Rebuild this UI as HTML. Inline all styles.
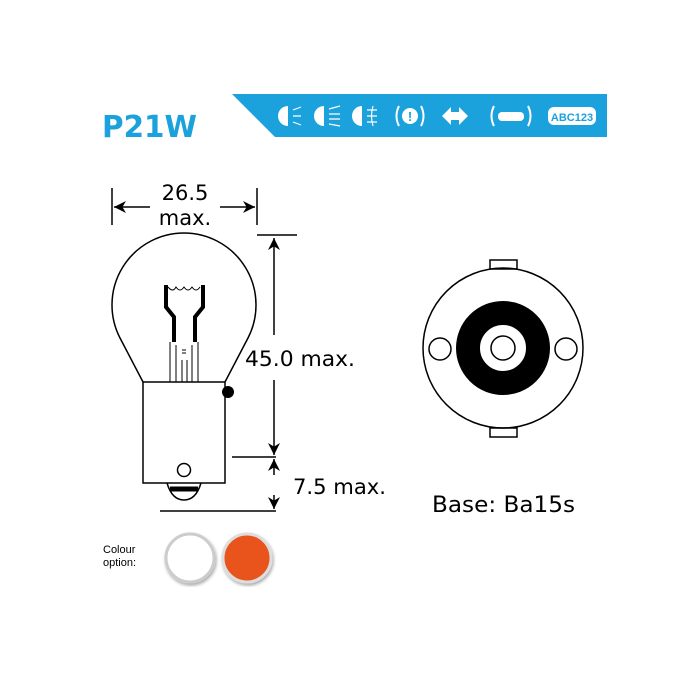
<!DOCTYPE html>
<html><head><style>body{margin:0;background:#fff}svg{display:block}</style></head><body>
<svg width="700" height="700" viewBox="0 0 700 700" xmlns="http://www.w3.org/2000/svg" font-family="DejaVu Sans, Liberation Sans, sans-serif">
<defs>
<marker id="a" viewBox="0 0 10 10" refX="10" refY="5" markerWidth="12" markerHeight="12" orient="auto-start-reverse" markerUnits="userSpaceOnUse"><path d="M0,0 L10,5 L0,10 L3,5z" fill="#000"/></marker>
<filter id="sh"><feDropShadow dx="1" dy="2" stdDeviation="1.5" flood-opacity="0.35"/></filter>
</defs>
<text x="102" y="137" font-size="30" font-weight="bold" fill="#1ba1dc" textLength="95" lengthAdjust="spacingAndGlyphs">P21W</text>
<polygon points="232,94 607,94 607,137 275,137" fill="#1ba1dc"/>
<g fill="#fff" stroke="#fff" font-family="Liberation Sans, sans-serif">
<path d="M288,106 a10,10 0 0 0 0,20z" stroke="none"/><path d="M293,110 l8,-3 M293,116 h8 M293,122 l8,3" stroke-width="1.2" fill="none"/>
<path d="M324,106 a10,10 0 0 0 0,20z" stroke="none"/><path d="M329,109 l11,-3 M329,114 h11 M329,119 h11 M329,124 l11,2" stroke-width="1.2" fill="none"/>
<path d="M362,106 a10,10 0 0 0 0,20z" stroke="none"/><path d="M367,110 h10 M367,116 h10 M367,122 h10 M373,106 q-3,10 0,20" stroke-width="1.2" fill="none"/>
<circle cx="410" cy="116" r="8" stroke="none"/><text x="410" y="121" font-size="13" font-weight="bold" fill="#1ba1dc" stroke="none" text-anchor="middle">!</text>
<path d="M399,106 q-5,10 0,20 M421,106 q5,10 0,20" stroke-width="2" fill="none"/>
<path d="M442,116 l9,-9 v18z M468,116 l-9,-9 v18z" stroke="none"/><rect x="450" y="112" width="10" height="8" stroke="none"/>
<path d="M494,106 q-5,10 0,20 M528,106 q5,10 0,20" stroke-width="2" fill="none"/>
<rect x="498" y="112" width="26" height="9" rx="4" stroke="none"/>
<rect x="548" y="107" width="48" height="18" rx="6" stroke="none"/>
<text x="572" y="121" font-size="11" font-weight="bold" fill="#1ba1dc" stroke="none" text-anchor="middle">ABC123</text>
</g>
<g stroke="#000" fill="none" stroke-width="1.5">
<line x1="112" y1="188" x2="112" y2="225"/><line x1="257" y1="188" x2="257" y2="225"/>
<line x1="150" y1="207" x2="114" y2="207" marker-end="url(#a)"/><line x1="220" y1="207" x2="255" y2="207" marker-end="url(#a)"/>
<line x1="257" y1="235" x2="297" y2="235"/><line x1="232" y1="457" x2="276" y2="457"/><line x1="160" y1="511" x2="276" y2="511"/>
<line x1="274" y1="335" x2="274" y2="238" marker-end="url(#a)"/><line x1="274" y1="380" x2="274" y2="455" marker-end="url(#a)"/>
<line x1="274" y1="475" x2="274" y2="459" marker-end="url(#a)"/><line x1="274" y1="495" x2="274" y2="509" marker-end="url(#a)"/>
<path d="M143,382 L120,338 A72,72 0 1 1 248,338 L225,382" />
<rect x="143" y="382" width="82" height="101"/>
<circle cx="184" cy="470" r="6.5"/>
<path d="M167,483 Q172,500 184,500 Q196,500 201,483"/>
<path d="M170,489 h28" stroke-width="5"/>
<path d="M166,285 v22 l8,10 v25 M203,285 v22 l-8,10 v25" stroke-width="4"/>
<path d="M168,287 q5,6 8,0 q4,6 8,0 q4,6 8,0 q4,6 8,0" stroke-width="1"/>
<path d="M170,342 v40 M198,342 v40 M176,345 v37 M192,345 v37 M182,360 v22 M187,360 v22 M182,350 h4 M182,353 h4" stroke-width="1"/>
<rect x="490" y="260" width="27" height="9" fill="#fff"/><rect x="490" y="428" width="27" height="9" fill="#fff"/>
<circle cx="503" cy="348" r="80"/>
<circle cx="503" cy="348" r="35" stroke-width="24"/>
<circle cx="503" cy="348" r="12"/>
<circle cx="440" cy="349" r="11"/><circle cx="566" cy="349" r="11"/>
</g>
<circle cx="228" cy="392" r="6" fill="#000"/>
<g font-size="21" text-anchor="middle">
<text x="185" y="200">26.5</text><text x="185" y="225">max.</text>
</g>
<text x="245" y="366" font-size="21" textLength="110" lengthAdjust="spacingAndGlyphs">45.0 max.</text>
<text x="293" y="494" font-size="21" textLength="93" lengthAdjust="spacingAndGlyphs">7.5 max.</text>
<text x="432" y="512" font-size="22" textLength="143" lengthAdjust="spacingAndGlyphs">Base: Ba15s</text>
<text x="103" y="553" font-size="11" font-family="Liberation Sans, sans-serif">Colour</text><text x="103" y="566" font-size="11" font-family="Liberation Sans, sans-serif">option:</text>
<circle cx="190" cy="558" r="24" fill="#fff" stroke="#ccc" stroke-width="3" filter="url(#sh)"/>
<circle cx="247" cy="558" r="24" fill="#e9521b" stroke="#ddd" stroke-width="3" filter="url(#sh)"/>
</svg>
</body></html>
